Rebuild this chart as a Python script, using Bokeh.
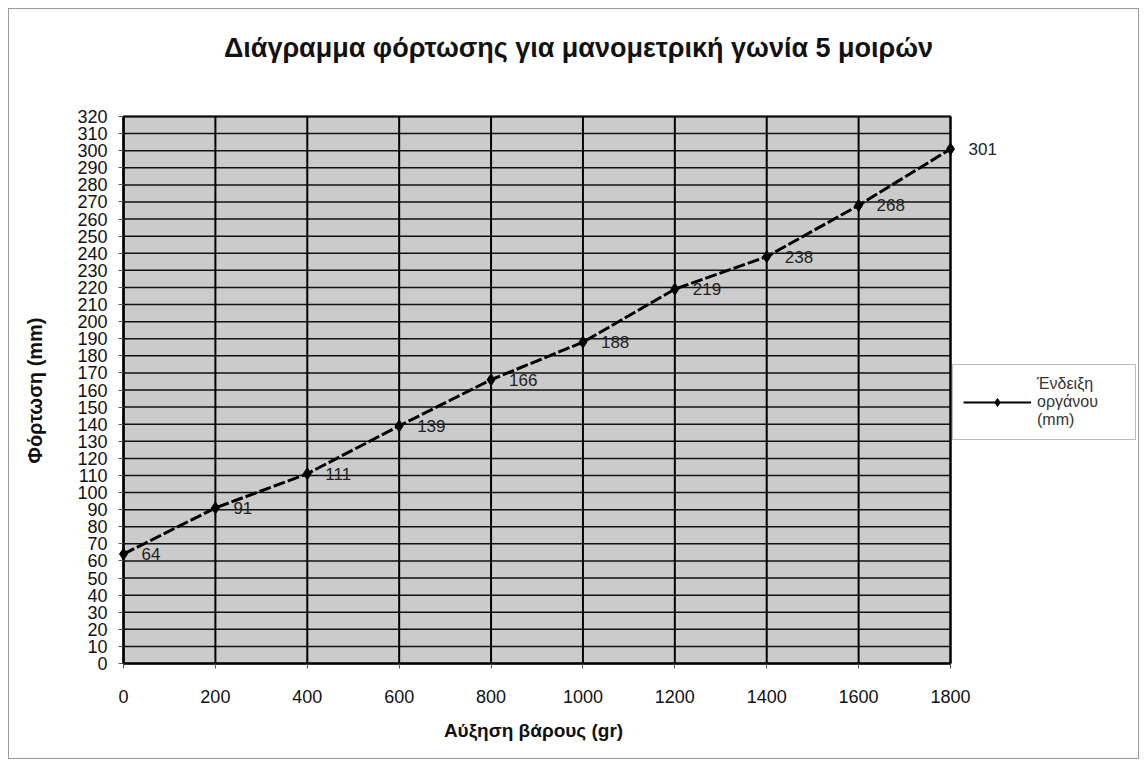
import math
from bokeh.plotting import figure
from bokeh.models import (ColumnDataSource, LabelSet, Label, Legend, LegendItem,
                          FixedTicker)
from bokeh.core.properties import value
from bokeh.embed import file_html
from bokeh.resources import INLINE

weights = [0, 200, 400, 600, 800, 1000, 1200, 1400, 1600, 1800]
readings = [64, 91, 111, 139, 166, 188, 219, 238, 268, 301]
point_labels = [str(v) for v in readings]
x_ticks = list(range(0, 1801, 200))
y_ticks = list(range(0, 321, 10))

title_text = "Διάγραμμα φόρτωσης για μανομετρική γωνία 5 μοιρών"
x_title = "Αύξηση βάρους (gr)"
y_title = "Φόρτωση (mm)"
series_name = "Ένδειξη\nοργάνου\n(mm)"

FONT = "Liberation Sans"

# layout: the frame fills the whole figure, the plot area sits inside it
FIG_W, FIG_H = 1131, 751
PA_L, PA_R, PA_T, PA_B = 114, 941, 107, 654   # plot-area pixel edges in the figure
xs = (x_ticks[-1] - x_ticks[0]) / (PA_R - PA_L)
ys = (y_ticks[-1] - y_ticks[0]) / (PA_B - PA_T)
x_range = (x_ticks[0] - PA_L * xs, x_ticks[-1] + (FIG_W - PA_R) * xs)
y_range = (y_ticks[0] - (FIG_H - PA_B) * ys, y_ticks[-1] + PA_T * ys)

src = ColumnDataSource(dict(x=weights, y=readings, lab=point_labels))
hgrid = ColumnDataSource(dict(y=y_ticks))
vgrid = ColumnDataSource(dict(x=x_ticks))

p = figure(width=FIG_W, height=FIG_H, x_range=x_range, y_range=y_range,
           output_backend="svg", toolbar_location=None,
           min_border=0, min_border_left=0, min_border_right=0,
           min_border_top=0, min_border_bottom=0,
           styles={"margin-left": "8px", "margin-top": "8px",
                   "border": "1px solid #9a9a9a"})

p.background_fill_color = "white"
p.border_fill_color = "white"
p.outline_line_color = None
p.xgrid.visible = False
p.ygrid.visible = False

# plot area background with border
p.quad(left=x_ticks[0], right=x_ticks[-1], bottom=y_ticks[0], top=y_ticks[-1],
       fill_color="#cbcbcb", line_color="black", line_width=2, level="image")

# grid lines limited to the plot area
p.segment(x0=x_ticks[0], x1=x_ticks[-1], y0="y", y1="y", source=hgrid,
          line_color="#111111", line_width=1.5, level="underlay")
p.segment(x0="x", x1="x", y0=y_ticks[0], y1=y_ticks[-1], source=vgrid,
          line_color="black", line_width=2, level="underlay")

# axes fixed at the plot area's edges
for ax in (p.xaxis[0], p.yaxis[0]):
    ax.axis_line_color = "black"
    ax.axis_line_width = 2
    ax.major_tick_line_color = "#555555"
    ax.major_tick_out = 5
    ax.major_tick_in = 0
    ax.minor_tick_line_color = None
    ax.major_label_text_font = FONT
    ax.major_label_text_font_size = "18px"
    ax.major_label_text_color = "#111111"

p.xaxis.fixed_location = y_ticks[0]
p.yaxis.fixed_location = x_ticks[0]
p.xaxis.bounds = (x_ticks[0], x_ticks[-1])
p.yaxis.bounds = (y_ticks[0], y_ticks[-1])
p.xaxis.ticker = FixedTicker(ticks=x_ticks)
p.yaxis.ticker = FixedTicker(ticks=y_ticks)
p.xaxis.major_label_standoff = 21
p.yaxis.major_label_standoff = 11

# texts
p.add_layout(Label(x=569, y=FIG_H - 38, x_units="screen", y_units="screen",
                   text=title_text, text_align="center", text_baseline="middle",
                   text_font=FONT, text_font_size="27px", text_font_style="bold",
                   text_color="#111111"))
p.add_layout(Label(x=524, y=FIG_H - 721, x_units="screen", y_units="screen",
                   text=x_title, text_align="center", text_baseline="middle",
                   text_font=FONT, text_font_size="19px", text_font_style="bold",
                   text_color="#111111"))
p.add_layout(Label(x=25, y=FIG_H - 381, x_units="screen", y_units="screen",
                   text=y_title, text_align="center", text_baseline="middle",
                   angle=math.pi / 2,
                   text_font=FONT, text_font_size="20px", text_font_style="bold",
                   text_color="#111111"))

# series
p.line("x", "y", source=src, line_color="black", line_width=3, line_dash="12 3")
p.scatter("x", "y", source=src, marker="diamond", size=12, color="black")

labels = LabelSet(x="x", y="y", text="lab", source=src, x_offset=18, y_offset=0,
                  text_baseline="middle", text_font_size="17px", text_color="#222222",
                  text_font=value(FONT))
p.add_layout(labels)

# legend proxies (not drawn: NaN data)
proxy = ColumnDataSource(dict(x=[float("nan")], y=[float("nan")]))
leg_line = p.line("x", "y", source=proxy, line_color="black", line_width=2)
leg_mark = p.scatter("x", "y", source=proxy, marker="diamond", size=15, color="black")

legend = Legend(items=[LegendItem(label=series_name, renderers=[leg_line, leg_mark])],
                location=(943, FIG_H - 431))
legend.border_line_color = "#777777"
legend.border_line_width = 1
legend.background_fill_color = "white"
legend.background_fill_alpha = 1
legend.label_text_font = FONT
legend.label_text_font_size = "16px"
legend.label_text_color = "#333333"
legend.glyph_width = 68
legend.label_standoff = 6
legend.padding = 10
legend.label_width = 88
legend.margin = 0
p.add_layout(legend, "center")

open("out.html", "w").write(file_html(p, INLINE))
